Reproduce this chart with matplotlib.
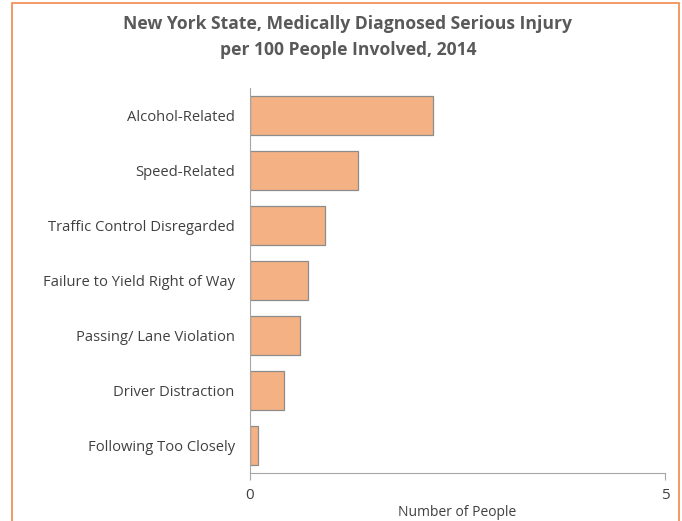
import matplotlib.pyplot as plt
from matplotlib.patches import Rectangle

categories = ['Alcohol-Related', 'Speed-Related', 'Traffic Control Disregarded',
              'Failure to Yield Right of Way', 'Passing/ Lane Violation',
              'Driver Distraction', 'Following Too Closely']
values = [2.2, 1.3, 0.9, 0.7, 0.6, 0.41, 0.1]
xticks = [0, 5]

plt.rcParams['font.family'] = ['Open Sans', 'DejaVu Sans']

fig = plt.figure(figsize=(6.82, 5.21), dpi=100)
ax = fig.add_axes([0.3666, 0.0921, 0.6084, 0.7389])

ypos = list(range(len(categories)))
ax.barh(ypos, values, height=0.71, color='#F4B183', edgecolor='#8C8C8C', linewidth=0.9)
ax.set_ylim(len(categories) - 0.5, -0.5)
ax.set_yticks(ypos)
ax.set_yticklabels(categories, fontsize=10.6, color='#404040')
ax.set_xlim(0, 5)
ax.set_xticks(xticks)
ax.set_xticklabels([str(t) for t in xticks], fontsize=11, color='#404040')
ax.tick_params(axis='y', length=0, pad=11)
ax.tick_params(axis='x', length=5, color='#A6A6A6', pad=6)
for s in ['top', 'right']:
    ax.spines[s].set_visible(False)
for s in ['left', 'bottom']:
    ax.spines[s].set_color('#A6A6A6')
ax.set_xlabel('Number of People', fontsize=10, color='#404040', labelpad=1)

fig.text(0.51, 0.971, 'New York State, Medically Diagnosed Serious Injury\nper 100 People Involved, 2014',
         ha='center', va='top', fontsize=12.6, fontweight='bold', color='#595959', linespacing=1.55)

fig.patches.append(Rectangle((12 / 682, -0.1), 667 / 682, 1.1 - 3 / 521, transform=fig.transFigure,
                             fill=False, edgecolor='#F08A4B', linewidth=1.2))

fig.savefig('out.png', dpi=100)
